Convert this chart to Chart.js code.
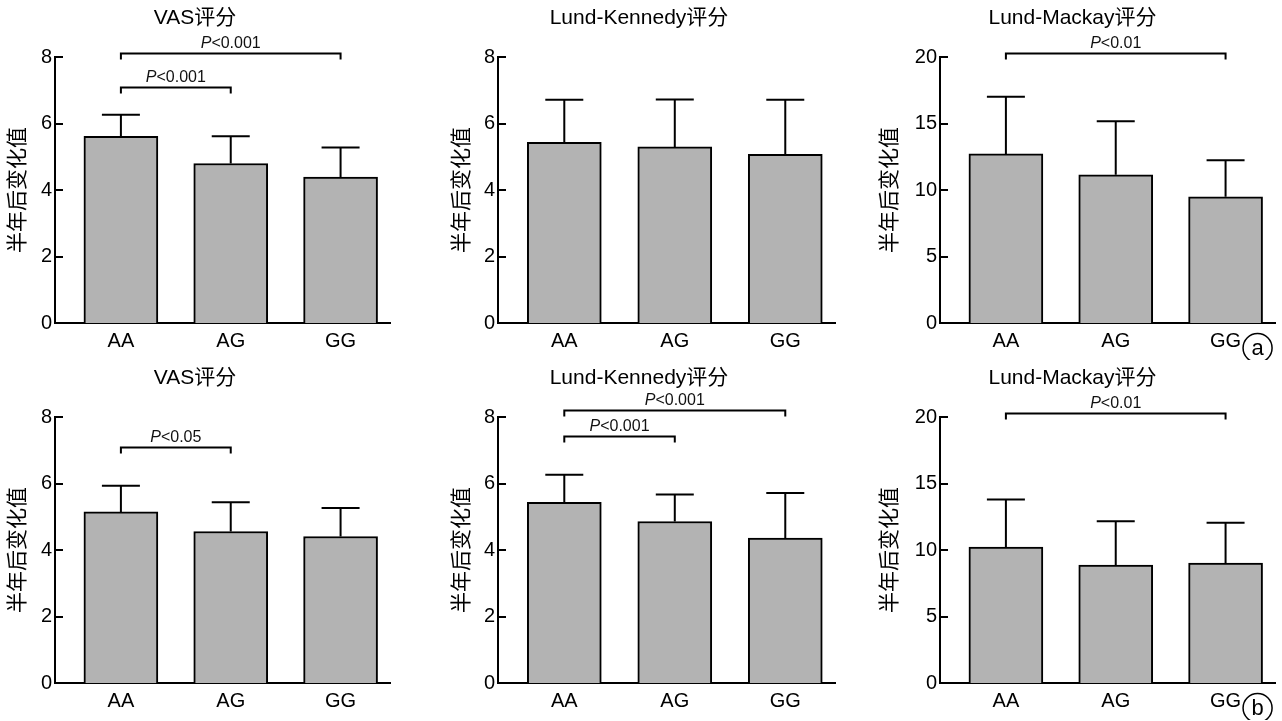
<!DOCTYPE html>
<html>
<head>
<meta charset="utf-8">
<script src="https://cdn.jsdelivr.net/npm/chart.js@4.4.1/dist/chart.umd.min.js"></script>
<style>
  body { margin: 0; background: #fff; width: 1282px; height: 721px; overflow: hidden; position: relative; }
  canvas { position: absolute; }
</style>
</head>
<body>
<canvas id="c1"></canvas>
<canvas id="c2"></canvas>
<canvas id="c3"></canvas>
<canvas id="c4"></canvas>
<canvas id="c5"></canvas>
<canvas id="c6"></canvas>
<script>
const genotypes = ['AA', 'AG', 'GG'];
const yAxisTitle = '半年后变化值';
const yTicksScore = [0, 2, 4, 6, 8];
const yTicksMackay = [0, 5, 10, 15, 20];

// row a
const vasMeanA = [5.62, 4.80, 4.39];
const vasSdA = [0.65, 0.82, 0.89];
const lkMeanA = [5.44, 5.30, 5.08];
const lkSdA = [1.28, 1.43, 1.64];
const lmMeanA = [12.72, 11.15, 9.50];
const lmSdA = [4.31, 4.03, 2.75];

// row b
const vasMeanB = [5.15, 4.56, 4.41];
const vasSdB = [0.79, 0.88, 0.86];
const lkMeanB = [5.44, 4.86, 4.36];
const lkSdB = [0.83, 0.81, 1.36];
const lmMeanB = [10.22, 8.87, 9.03];
const lmSdB = [3.58, 3.31, 3.02];

// significance: [from, to, p text]
const vasSigA = [[0, 1, '<0.001'], [0, 2, '<0.001']];
const lmSigA = [[0, 2, '<0.01']];
const vasSigB = [[0, 1, '<0.05']];
const lkSigB = [[0, 1, '<0.001'], [0, 2, '<0.001']];
const lmSigB = [[0, 2, '<0.01']];

const FONT = "'Liberation Sans', Arial, 'Noto Sans CJK SC', sans-serif";
Chart.defaults.font.family = FONT;
Chart.defaults.color = '#000';

const panels = [
  { id: 'c1', left: 0,   top: 0,   width: 395, yWidth: 55, titlePad: 5.4, title: 'VAS评分', mean: vasMeanA, sd: vasSdA, ticks: yTicksScore, sig: vasSigA, levels: [7.1, 8.12] },
  { id: 'c2', left: 443, top: 0,   width: 397, yWidth: 55, titlePad: 6.4, title: 'Lund-Kennedy评分', mean: lkMeanA, sd: lkSdA, ticks: yTicksScore, sig: [], levels: [] },
  { id: 'c3', left: 870, top: 0,   width: 410, yWidth: 70, titlePad: 7.4, title: 'Lund-Mackay评分', mean: lmMeanA, sd: lmSdA, ticks: yTicksMackay, sig: lmSigA, levels: [20.3], tag: 'a' },
  { id: 'c4', left: 0,   top: 360, width: 395, yWidth: 55, titlePad: 5.4, title: 'VAS评分', mean: vasMeanB, sd: vasSdB, ticks: yTicksScore, sig: vasSigB, levels: [7.1] },
  { id: 'c5', left: 443, top: 360, width: 397, yWidth: 55, titlePad: 6.4, title: 'Lund-Kennedy评分', mean: lkMeanB, sd: lkSdB, ticks: yTicksScore, sig: lkSigB, levels: [7.44, 8.22] },
  { id: 'c6', left: 870, top: 360, width: 410, yWidth: 70, titlePad: 7.4, title: 'Lund-Mackay评分', mean: lmMeanB, sd: lmSdB, ticks: yTicksMackay, sig: lmSigB, levels: [20.3], tag: 'b' }
];

const extras = {
  id: 'extras',
  afterDatasetsDraw(chart) {
    const p = chart.options.plugins.extras;
    const ctx = chart.ctx, xs = chart.scales.x, ys = chart.scales.y;
    ctx.save();
    ctx.strokeStyle = '#000';
    ctx.lineWidth = 2;

    // error bars (upper only)
    chart.getDatasetMeta(0).data.forEach((bar, i) => {
      const top = ys.getPixelForValue(p.mean[i] + p.sd[i]);
      ctx.beginPath();
      ctx.moveTo(bar.x, bar.y);
      ctx.lineTo(bar.x, top);
      ctx.moveTo(bar.x - 19, top);
      ctx.lineTo(bar.x + 19, top);
      ctx.stroke();
    });

    // inward y ticks
    ctx.beginPath();
    ys.ticks.forEach(t => {
      const py = Math.round(ys.getPixelForValue(t.value));
      ctx.moveTo(chart.chartArea.left, py);
      ctx.lineTo(chart.chartArea.left + 8, py);
    });
    ctx.stroke();

    // significance brackets
    p.sig.forEach((s, k) => {
      const yy = Math.round(ys.getPixelForValue(p.levels[k])) + 0.5;
      const x1 = xs.getPixelForValue(s[0]);
      const x2 = xs.getPixelForValue(s[1]);
      ctx.lineWidth = 2;
      ctx.beginPath();
      ctx.moveTo(x1, yy + 6);
      ctx.lineTo(x1, yy);
      ctx.lineTo(x2, yy);
      ctx.lineTo(x2, yy + 6);
      ctx.stroke();

      ctx.fillStyle = '#111';
      ctx.textBaseline = 'middle';
      ctx.textAlign = 'left';
      ctx.font = 'italic 16px ' + FONT;
      const wP = ctx.measureText('P').width;
      ctx.font = '16px ' + FONT;
      const wRest = ctx.measureText(s[2]).width;
      const start = (x1 + x2) / 2 - (wP + wRest) / 2;
      ctx.font = 'italic 16px ' + FONT;
      ctx.fillText('P', start, yy - 10);
      ctx.font = '16px ' + FONT;
      ctx.fillText(s[2], start + wP, yy - 10);
    });

    // panel tag
    if (p.tag) {
      const cx = xs.getPixelForValue(2) + 32;
      const cy = chart.chartArea.bottom + 25;
      ctx.lineWidth = 1.5;
      ctx.beginPath();
      ctx.arc(cx, cy, 14.5, 0, Math.PI * 2);
      ctx.stroke();
      ctx.fillStyle = '#000';
      ctx.font = '22px ' + FONT;
      ctx.textAlign = 'center';
      ctx.textBaseline = 'middle';
      ctx.fillText(p.tag, cx, cy + 1);
    }
    ctx.restore();
  }
};

panels.forEach(p => {
  const cv = document.getElementById(p.id);
  cv.width = p.width;
  cv.height = 360;
  cv.style.left = p.left + 'px';
  cv.style.top = p.top + 'px';
  const yMax = p.ticks[p.ticks.length - 1];

  new Chart(cv.getContext('2d'), {
    type: 'bar',
    data: {
      datasets: [{
        data: genotypes.map((g, i) => ({ x: i, y: p.mean[i] })),
        backgroundColor: '#b3b3b3',
        borderColor: '#000',
        borderWidth: 2,
        barThickness: 74
      }]
    },
    options: {
      responsive: false,
      animation: false,
      layout: { padding: { top: 0, right: 5, bottom: 1, left: 0 } },
      plugins: {
        legend: { display: false },
        tooltip: { enabled: false },
        title: {
          display: true,
          text: p.title,
          font: { size: 21, weight: 'normal' },
          color: '#000',
          padding: { top: 6, bottom: 26 }
        },
        extras: { mean: p.mean, sd: p.sd, sig: p.sig, levels: p.levels, tag: p.tag }
      },
      scales: {
        x: {
          type: 'linear',
          offset: false,
          min: -0.6,
          max: 2.45,
          afterBuildTicks: s => { s.ticks = genotypes.map((g, i) => ({ value: i })); },
          grid: { display: false, drawTicks: false, tickLength: 0, offset: false },
          border: { display: true, color: '#000', width: 2 },
          ticks: {
            padding: 6,
            font: { size: 20 },
            color: '#000',
            callback: v => genotypes[v]
          }
        },
        y: {
          min: 0,
          max: yMax,
          afterBuildTicks: s => { s.ticks = p.ticks.map(v => ({ value: v })); },
          afterFit: s => { s.width = p.yWidth; },
          grid: { display: false, drawTicks: false, tickLength: 0 },
          border: { display: true, color: '#000', width: 2 },
          ticks: { padding: 3, font: { size: 20 }, color: '#000' },
          title: {
            display: true,
            text: yAxisTitle,
            font: { size: 21 },
            color: '#000',
            padding: { top: p.titlePad, bottom: 0 }
          }
        }
      }
    },
    plugins: [extras]
  });
});
</script>
</body>
</html>
